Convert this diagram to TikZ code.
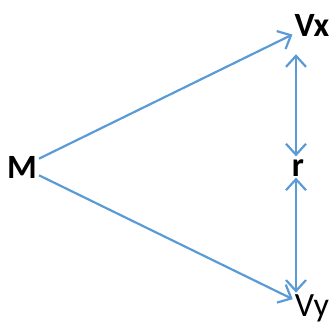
\documentclass[tikz,border=0pt]{standalone}
\usepackage{fontspec}
\setmainfont{Carlito}
\usepackage{tikz}
\usetikzlibrary{arrows.meta, calc}
\definecolor{arrowblue}{RGB}{91, 155, 213}

\begin{document}
\begin{tikzpicture}[
    x=1pt, y=1pt,
    varnode/.style={
        inner sep=2pt, font=\fontsize{34}{36}\selectfont
    },
    flowarrow/.style={
        -{Straight Barb[length=11pt, width=20pt]}, line width=2.2pt, color=arrowblue
    },
    pairarrow/.style={
        {Straight Barb[length=11pt, width=20pt]}-{Straight Barb[length=11pt, width=20pt]},
        line width=2.2pt, color=arrowblue
    }
]
\useasboundingbox (0,0) rectangle (335,324);

% Nodes
\node[varnode, font=\fontsize{34}{36}\selectfont\bfseries] (M) at (22,157) {M};
\node[varnode, font=\fontsize{34}{36}\selectfont\bfseries] (Vx) at (312,299) {Vx};
\node[varnode, font=\fontsize{34}{36}\selectfont\bfseries] (r) at (298,156) {r};
\node[varnode] (Vy) at (312,15.5) {Vy};

% Connections
\draw[flowarrow] (M) -- (Vx);
\draw[flowarrow] (M) -- (Vy);
\draw[pairarrow, shorten >=16pt, shorten <=1pt] ([xshift=-2pt]r.north) -- ([xshift=-2pt]r.north |- Vx.south);
\draw[pairarrow, shorten <=-1pt, shorten >=0pt] ([xshift=-2pt]r.south) -- ([xshift=-2pt]r.south |- Vy.north);

\end{tikzpicture}
\end{document}
